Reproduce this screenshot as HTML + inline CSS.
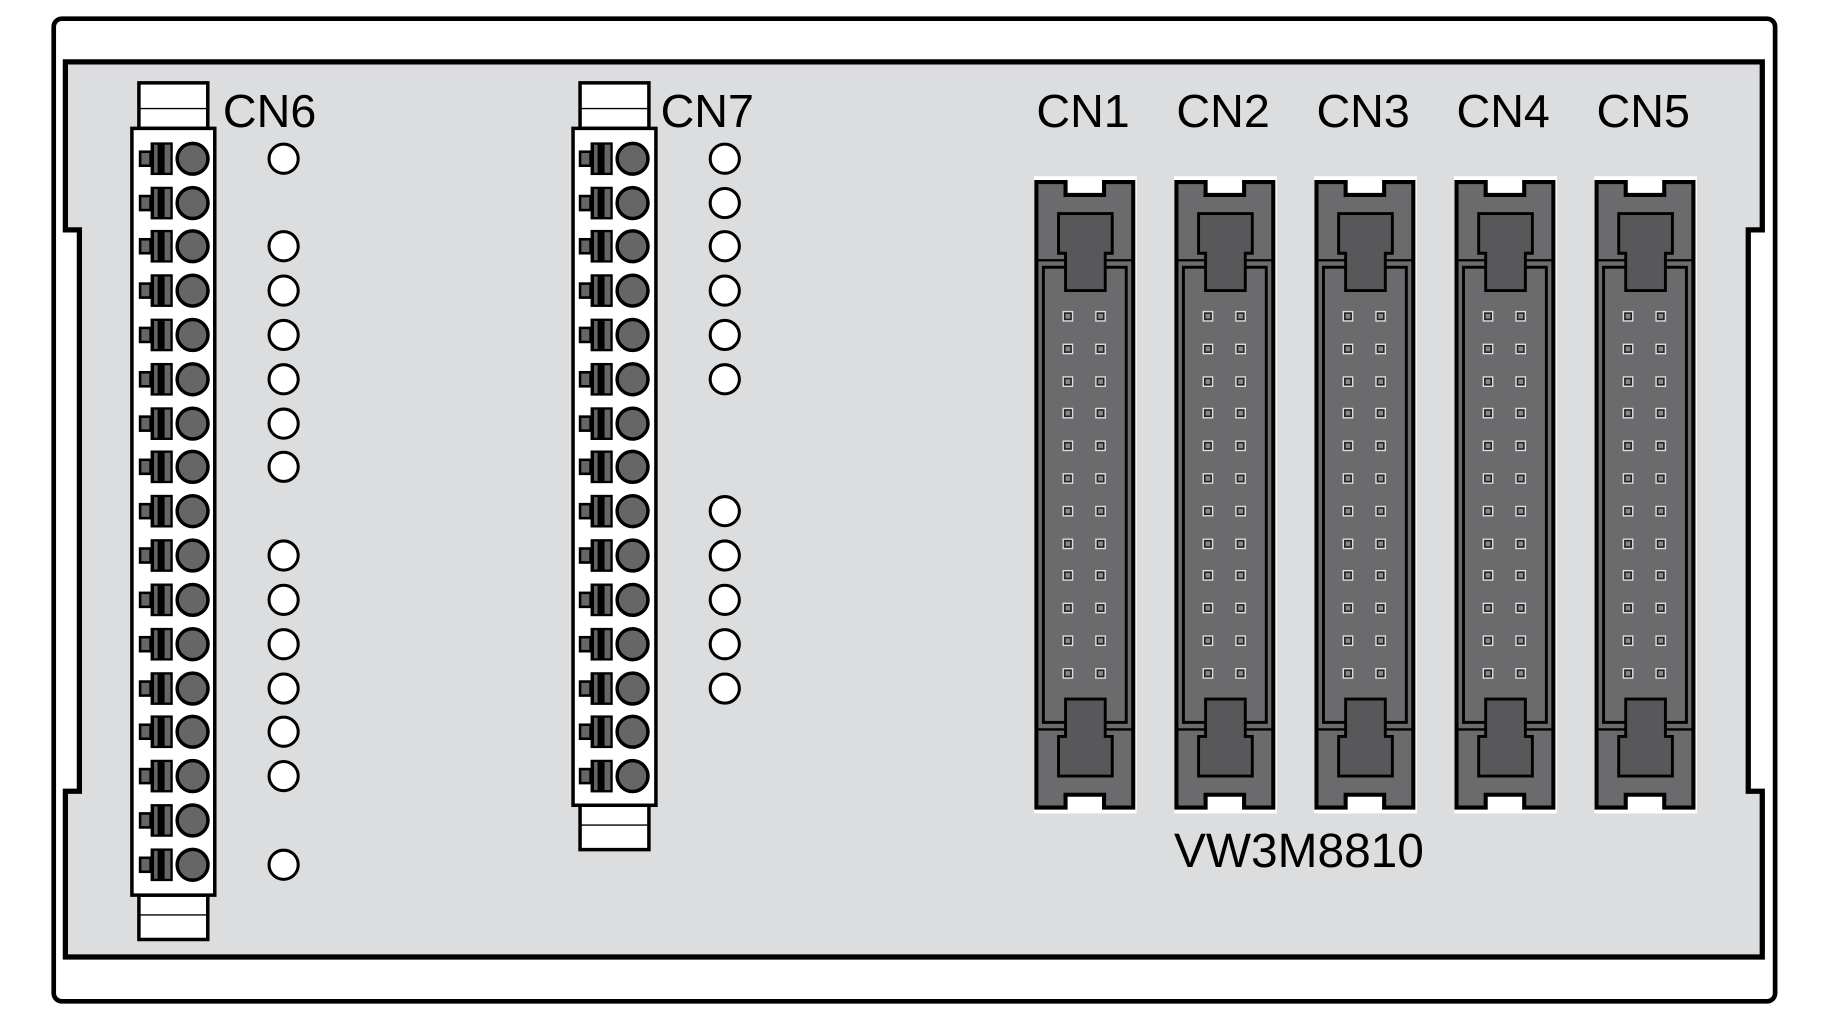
<!DOCTYPE html>
<html><head><meta charset="utf-8"><style>
html,body{margin:0;padding:0;background:#fff;}
svg{display:block;}
text{font-family:"Liberation Sans",Arial,sans-serif;fill:#000;}
</style></head><body>
<svg width="1830" height="1020" viewBox="0 0 1568 874" xmlns="http://www.w3.org/2000/svg">
<defs>
  <g id="term">
    <rect x="120" y="-6" width="9" height="12" fill="#666" stroke="#000" stroke-width="2.2"/>
    <rect x="129" y="-14" width="19" height="28" fill="#000"/>
    <rect x="132" y="-12" width="3" height="24" fill="#666"/>
    <rect x="141" y="-12" width="5" height="24" fill="#666"/>
    <circle cx="165" cy="0" r="13.2" fill="#666" stroke="#000" stroke-width="3"/>
  </g>
  <g id="led"><circle cx="0" cy="0" r="12.5" fill="#fff" stroke="#000" stroke-width="2.6"/></g>
  <g id="pin"><rect x="-4" y="-4" width="8" height="8" fill="#222" stroke="#ddd" stroke-width="1.2"/><rect x="-2" y="-2" width="4" height="4" fill="#888"/></g>
  <g id="pins">
    <use href="#pin" x="28" y="271"/><use href="#pin" x="56" y="271"/>
    <use href="#pin" x="28" y="299"/><use href="#pin" x="56" y="299"/>
    <use href="#pin" x="28" y="327"/><use href="#pin" x="56" y="327"/>
    <use href="#pin" x="28" y="354"/><use href="#pin" x="56" y="354"/>
    <use href="#pin" x="28" y="382"/><use href="#pin" x="56" y="382"/>
    <use href="#pin" x="28" y="410"/><use href="#pin" x="56" y="410"/>
    <use href="#pin" x="28" y="438"/><use href="#pin" x="56" y="438"/>
    <use href="#pin" x="28" y="466"/><use href="#pin" x="56" y="466"/>
    <use href="#pin" x="28" y="493"/><use href="#pin" x="56" y="493"/>
    <use href="#pin" x="28" y="521"/><use href="#pin" x="56" y="521"/>
    <use href="#pin" x="28" y="549"/><use href="#pin" x="56" y="549"/>
    <use href="#pin" x="28" y="577"/><use href="#pin" x="56" y="577"/>
  </g>
  <g id="conn">
    <rect x="-1" y="151" width="88" height="546" fill="#fff"/>
    <path d="M1,156 H26 V167 H59 V156 H84 V692 H59 V681 H26 V692 H1 Z" fill="#6b6b6e" stroke="#000" stroke-width="3.5"/>
    <line x1="1" y1="223" x2="84" y2="223" stroke="#000" stroke-width="2"/>
    <line x1="1" y1="625" x2="84" y2="625" stroke="#000" stroke-width="2"/>
    <rect x="7" y="229" width="71" height="390" fill="#6b6b6e" stroke="#000" stroke-width="2.5"/>
    <path d="M20,183 H66 V217 H60 V249 H26 V217 H20 Z" fill="#58585a" stroke="#000" stroke-width="2.5"/>
    <path d="M20,665 H66 V631 H60 V599 H26 V631 H20 Z" fill="#58585a" stroke="#000" stroke-width="2.5"/>
    <use href="#pins"/>
  </g>
</defs>
<rect x="0" y="0" width="1568" height="874" fill="#fff"/>
<rect x="46" y="16" width="1475" height="842" rx="7" fill="#fff" stroke="#000" stroke-width="4"/>
<path d="M56,53 H1510 V197 H1498 V678 H1510 V820 H56 V678 H68 V197 H56 Z" fill="#dcdddf" stroke="#000" stroke-width="4.5"/>

<!-- CN6 -->
<rect x="119" y="71" width="59" height="39" fill="#fff" stroke="#000" stroke-width="3"/>
<line x1="119" y1="93" x2="178" y2="93" stroke="#000" stroke-width="1.2"/>
<rect x="119" y="767" width="59" height="38" fill="#fff" stroke="#000" stroke-width="3"/>
<line x1="119" y1="784" x2="178" y2="784" stroke="#000" stroke-width="1.2"/>
<rect x="113" y="110" width="71" height="657" fill="#fff" stroke="#000" stroke-width="3"/>
<g>
<use href="#term" y="136"/><use href="#term" y="174"/><use href="#term" y="211"/><use href="#term" y="249"/>
<use href="#term" y="287"/><use href="#term" y="325"/><use href="#term" y="363"/><use href="#term" y="400"/>
<use href="#term" y="438"/><use href="#term" y="476"/><use href="#term" y="514"/><use href="#term" y="552"/>
<use href="#term" y="590"/><use href="#term" y="627"/><use href="#term" y="665"/><use href="#term" y="703"/>
<use href="#term" y="741"/>
</g>
<g>
<use href="#led" x="243" y="136"/><use href="#led" x="243" y="211"/><use href="#led" x="243" y="249"/>
<use href="#led" x="243" y="287"/><use href="#led" x="243" y="325"/><use href="#led" x="243" y="363"/>
<use href="#led" x="243" y="400"/><use href="#led" x="243" y="476"/><use href="#led" x="243" y="514"/>
<use href="#led" x="243" y="552"/><use href="#led" x="243" y="590"/><use href="#led" x="243" y="627"/>
<use href="#led" x="243" y="665"/><use href="#led" x="243" y="741"/>
</g>
<text x="191" y="109" font-size="40">CN6</text>

<!-- CN7 -->
<rect x="497" y="71" width="59" height="39" fill="#fff" stroke="#000" stroke-width="3"/>
<line x1="497" y1="93" x2="556" y2="93" stroke="#000" stroke-width="1.2"/>
<rect x="497" y="690" width="59" height="38" fill="#fff" stroke="#000" stroke-width="3"/>
<line x1="497" y1="707" x2="556" y2="707" stroke="#000" stroke-width="1.2"/>
<rect x="491" y="110" width="71" height="580" fill="#fff" stroke="#000" stroke-width="3"/>
<g transform="translate(377,0)">
<use href="#term" y="136"/><use href="#term" y="174"/><use href="#term" y="211"/><use href="#term" y="249"/>
<use href="#term" y="287"/><use href="#term" y="325"/><use href="#term" y="363"/><use href="#term" y="400"/>
<use href="#term" y="438"/><use href="#term" y="476"/><use href="#term" y="514"/><use href="#term" y="552"/>
<use href="#term" y="590"/><use href="#term" y="627"/><use href="#term" y="665"/>
</g>
<g>
<use href="#led" x="621" y="136"/><use href="#led" x="621" y="174"/><use href="#led" x="621" y="211"/>
<use href="#led" x="621" y="249"/><use href="#led" x="621" y="287"/><use href="#led" x="621" y="325"/>
<use href="#led" x="621" y="438"/><use href="#led" x="621" y="476"/><use href="#led" x="621" y="514"/>
<use href="#led" x="621" y="552"/><use href="#led" x="621" y="590"/>
</g>
<text x="566" y="109" font-size="40">CN7</text>

<!-- connectors -->
<use href="#conn" x="887"/>
<use href="#conn" x="1007"/>
<use href="#conn" x="1127"/>
<use href="#conn" x="1247"/>
<use href="#conn" x="1367"/>
<text x="928" y="109" font-size="40" text-anchor="middle">CN1</text>
<text x="1048" y="109" font-size="40" text-anchor="middle">CN2</text>
<text x="1168" y="109" font-size="40" text-anchor="middle">CN3</text>
<text x="1288" y="109" font-size="40" text-anchor="middle">CN4</text>
<text x="1408" y="109" font-size="40" text-anchor="middle">CN5</text>
<text x="1113" y="743" font-size="41" text-anchor="middle">VW3M8810</text>
</svg>
</body></html>
